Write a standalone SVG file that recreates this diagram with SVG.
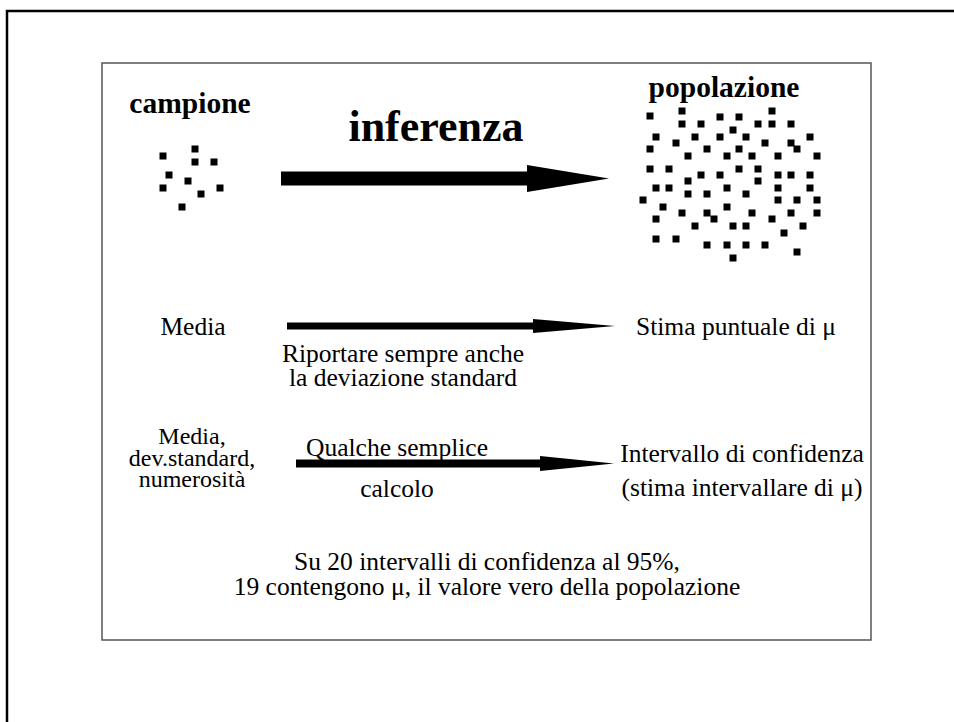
<svg xmlns="http://www.w3.org/2000/svg" width="954" height="722" viewBox="0 0 954 722">
<style>
.t{font-family:"Liberation Serif","Times New Roman",serif;fill:#000;text-anchor:middle}
.n{font-size:25.5px}
.s{font-size:24px}
.b{font-weight:bold;font-size:29.5px}
.d{fill:#000}
</style>
<defs>
<rect id="p" x="-3.5" y="-3.5" width="7" height="7" class="d"/>
</defs>
<rect width="954" height="722" fill="#fff"/>
<g id="frame">
<path d="M7 722V11H954" fill="none" stroke="#000" stroke-width="2.5"/>
<rect x="102" y="63" width="769" height="577" fill="none" stroke="#555" stroke-width="1.5"/>
</g>
<g id="campione">
<text class="t b" x="190" y="113">campione</text>
<g>
<use href="#p" x="163" y="156"/><use href="#p" x="195" y="149"/><use href="#p" x="195" y="162"/><use href="#p" x="214" y="162"/><use href="#p" x="169" y="175"/><use href="#p" x="188" y="181"/><use href="#p" x="163" y="188"/><use href="#p" x="220" y="188"/><use href="#p" x="201" y="194"/><use href="#p" x="182" y="207"/>
</g>
</g>
<g id="popolazione">
<text class="t b" x="724" y="97">popolazione</text>
<g>
<use href="#p" x="650" y="116"/><use href="#p" x="682" y="111"/><use href="#p" x="720" y="117"/><use href="#p" x="739" y="117"/><use href="#p" x="772" y="111"/>
<use href="#p" x="682" y="124"/><use href="#p" x="701" y="124"/><use href="#p" x="758" y="124"/><use href="#p" x="772" y="124"/><use href="#p" x="791" y="124"/>
<use href="#p" x="733" y="130"/>
<use href="#p" x="656" y="137"/><use href="#p" x="695" y="137"/><use href="#p" x="720" y="137"/><use href="#p" x="746" y="137"/><use href="#p" x="810" y="137"/>
<use href="#p" x="676" y="143"/><use href="#p" x="765" y="143"/><use href="#p" x="791" y="143"/>
<use href="#p" x="650" y="149"/><use href="#p" x="707" y="149"/><use href="#p" x="739" y="149"/><use href="#p" x="797" y="149"/>
<use href="#p" x="688" y="156"/><use href="#p" x="727" y="156"/><use href="#p" x="752" y="156"/><use href="#p" x="778" y="156"/><use href="#p" x="817" y="156"/>
<use href="#p" x="650" y="169"/><use href="#p" x="669" y="169"/><use href="#p" x="739" y="169"/><use href="#p" x="758" y="169"/>
<use href="#p" x="701" y="175"/><use href="#p" x="720" y="175"/><use href="#p" x="778" y="175"/><use href="#p" x="791" y="175"/><use href="#p" x="810" y="175"/>
<use href="#p" x="688" y="181"/><use href="#p" x="758" y="181"/>
<use href="#p" x="656" y="188"/><use href="#p" x="669" y="188"/><use href="#p" x="727" y="188"/><use href="#p" x="778" y="188"/><use href="#p" x="810" y="188"/>
<use href="#p" x="688" y="194"/><use href="#p" x="707" y="194"/><use href="#p" x="746" y="194"/>
<use href="#p" x="643" y="200"/><use href="#p" x="778" y="200"/><use href="#p" x="797" y="200"/><use href="#p" x="817" y="200"/>
<use href="#p" x="663" y="207"/><use href="#p" x="727" y="207"/>
<use href="#p" x="682" y="213"/><use href="#p" x="707" y="213"/><use href="#p" x="752" y="213"/><use href="#p" x="791" y="213"/><use href="#p" x="817" y="213"/>
<use href="#p" x="656" y="219"/><use href="#p" x="714" y="219"/><use href="#p" x="772" y="219"/>
<use href="#p" x="695" y="226"/><use href="#p" x="733" y="226"/><use href="#p" x="746" y="226"/><use href="#p" x="803" y="226"/>
<use href="#p" x="784" y="233"/>
<use href="#p" x="656" y="239"/><use href="#p" x="676" y="239"/>
<use href="#p" x="707" y="245"/><use href="#p" x="727" y="245"/><use href="#p" x="746" y="245"/><use href="#p" x="765" y="245"/>
<use href="#p" x="797" y="252"/>
<use href="#p" x="733" y="258"/>
</g>
</g>
<g id="connectors">
<polygon points="281,171.5 527,171.5 527,165 609,178.5 527,192 527,185.5 281,185.5" fill="#000"/>
<polygon points="287,322.5 533,322.5 533,319 615,326 533,333 533,329.5 287,329.5" fill="#000"/>
<polygon points="296,459.5 540,459.5 540,456 614,463.5 540,471 540,467.5 296,467.5" fill="#000"/>
</g>
<g id="inferenza"><text class="t" x="436" y="141" style="font-weight:bold;font-size:44px">inferenza</text></g>
<g id="media"><text class="t n" x="193" y="335">Media</text></g>
<g id="stima"><text class="t n" x="736" y="335">Stima puntuale di μ</text></g>
<g id="riportare">
<text class="t n" x="403" y="362">Riportare sempre anche</text>
<text class="t n" x="403" y="386">la deviazione standard</text>
</g>
<g id="dati">
<text class="t s" x="192" y="444">Media,</text>
<text class="t s" x="192" y="465.5">dev.standard,</text>
<text class="t s" x="192" y="487">numerosità</text>
</g>
<g id="calcolo">
<text class="t n" x="397" y="456">Qualche semplice</text>
<text class="t n" x="397" y="497">calcolo</text>
</g>
<g id="intervallo">
<text class="t n" x="742" y="462">Intervallo di confidenza</text>
<text class="t n" x="742" y="496">(stima intervallare di μ)</text>
</g>
<g id="nota">
<text class="t n" x="487" y="570">Su 20 intervalli di confidenza al 95%,</text>
<text class="t n" x="487" y="595">19 contengono μ, il valore vero della popolazione</text>
</g>
</svg>
